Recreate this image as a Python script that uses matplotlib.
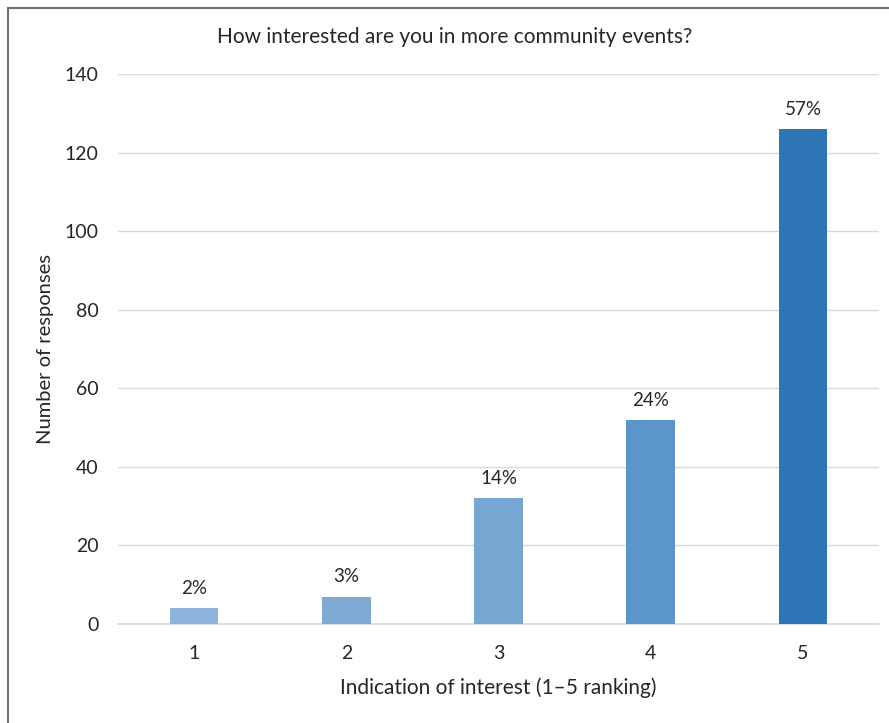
import matplotlib
matplotlib.use("Agg")
import matplotlib.pyplot as plt
from matplotlib.lines import Line2D

plt.rcParams['font.family'] = ['Lato', 'DejaVu Sans']

categories = ["1", "2", "3", "4", "5"]
responses = [4, 7, 32, 52, 126]
bar_colors = ["#8FB4DB", "#7FAAD5", "#77A6D3", "#5B95CA", "#2E75B6"]
y_ticks = [0, 20, 40, 60, 80, 100, 120, 140]

total = sum(responses)
labels = [f"{round(100 * v / total)}%" for v in responses]

fig = plt.figure(figsize=(8.89, 7.23), dpi=100)
W, H = 889, 723
ax = fig.add_axes([118 / W, 1 - 624 / H, (879 - 118) / W, (624 - 74) / H])

x = list(range(1, len(categories) + 1))
bars = ax.bar(x, responses, width=0.32, color=bar_colors, zorder=3)
for b, lab in zip(bars, labels):
    ax.annotate(lab, (b.get_x() + b.get_width() / 2, b.get_height()),
                xytext=(0, 8), textcoords="offset points",
                ha="center", va="bottom", fontsize=13.5, color="#262626")

ax.set_xlim(0.5, 5.5)
ax.set_ylim(0, 140)
ax.set_yticks(y_ticks)
ax.set_xticks(x)
ax.set_xticklabels(categories)
ax.yaxis.grid(True, color="#D9D9D9", linewidth=1, zorder=0)
ax.tick_params(axis="both", length=0, labelsize=14, labelcolor="#262626")
ax.tick_params(axis="y", pad=14)
ax.tick_params(axis="x", pad=15)
for s in ("top", "right", "left"):
    ax.spines[s].set_visible(False)
ax.spines["bottom"].set_color("#D9D9D9")
ax.spines["bottom"].set_linewidth(1.2)

ax.set_xlabel("Indication of interest (1\u20135 ranking)", fontsize=15,
              color="#262626")
ax.set_ylabel("Number of responses", fontsize=14.5, color="#262626")
ax.xaxis.set_label_coords(0.5, (624 - 688) / 550)
ax.yaxis.set_label_coords((46 - 118) / 761, 0.5)
ax.xaxis.label.set_va("center")
ax.yaxis.label.set_va("center")
fig.text(455 / W, 1 - 37 / H, "How interested are you in more community events?",
         ha="center", va="center", fontsize=15, color="#262626")

# frame edges along the top and left
fig.add_artist(Line2D([8 / W, 1.0], [1 - 8 / H, 1 - 8 / H], color="#707070",
                      linewidth=1.5, transform=fig.transFigure))
fig.add_artist(Line2D([8 / W, 8 / W], [0.0, 1 - 8 / H], color="#707070",
                      linewidth=1.5, transform=fig.transFigure))

fig.savefig("out.png", dpi=100, facecolor="white")
